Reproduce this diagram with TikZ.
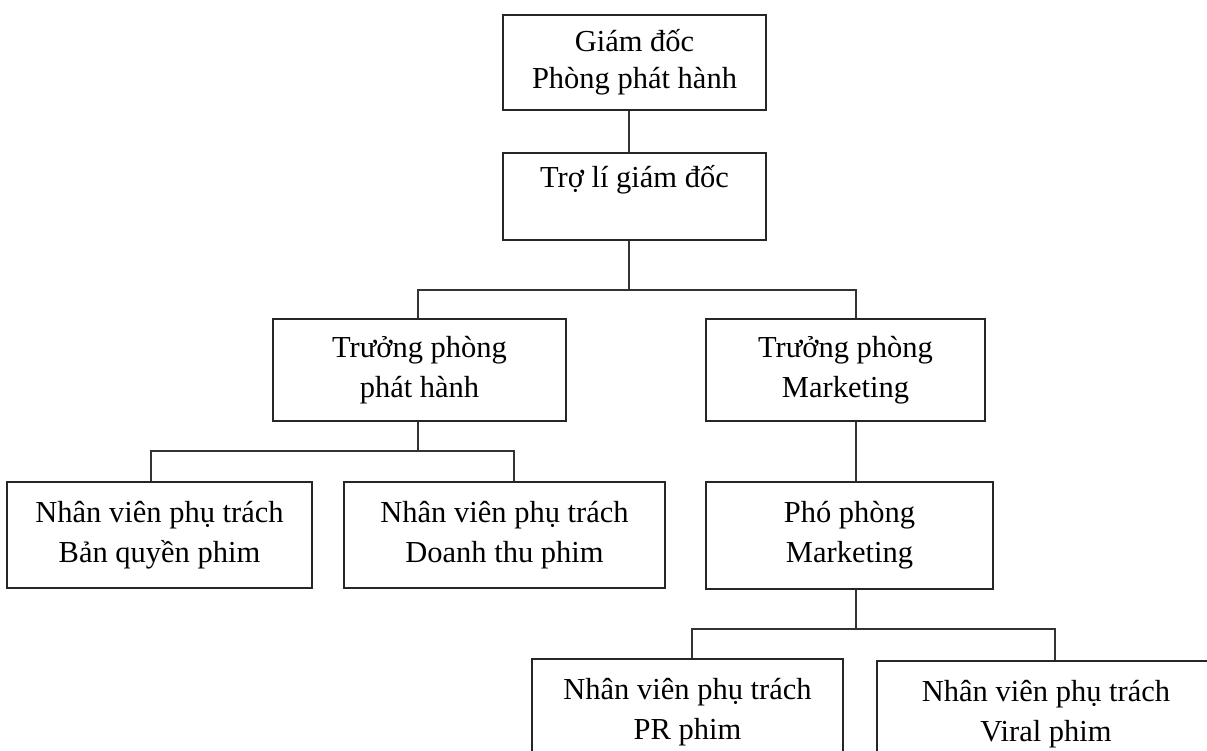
\documentclass[tikz,border=0pt]{standalone}
\usepackage{fontspec}
\setmainfont{Liberation Serif}
\begin{document}
\begin{tikzpicture}[x=1pt,y=-1pt,
  box/.style={draw=black!85, line width=1.3pt, rectangle, inner sep=0pt, align=center,
    font=\fontsize{30.5}{40}\selectfont},
  link/.style={draw=black!80, line width=1.3pt}]
\useasboundingbox (0,0) rectangle (1207,751);
\clip (0,0) rectangle (1207,751);
% boxes
\node[box, minimum width=263pt, minimum height=95pt, font=\fontsize{30.5}{37}\selectfont] (b1) at (634.5,62.5) {Giám đốc\\Phòng phát hành};
\node[box, minimum width=263pt, text height=35pt, text depth=52pt] (b2) at (634.5,196.5) {Trợ lí giám đốc};
\node[box, minimum width=293pt, minimum height=102pt] (b3) at (419.5,370) {Trưởng phòng\\phát hành};
\node[box, minimum width=279pt, minimum height=102pt] (b4) at (845.5,370) {Trưởng phòng\\Marketing};
\node[box, minimum width=305pt, minimum height=106pt] (b5) at (159.5,535) {Nhân viên phụ trách\\Bản quyền phim};
\node[box, minimum width=321pt, minimum height=106pt] (b6) at (504.5,535) {Nhân viên phụ trách\\Doanh thu phim};
\node[box, minimum width=287pt, minimum height=107pt] (b7) at (849.5,535.5) {Phó phòng\\Marketing};
\node[box, minimum width=311pt, minimum height=106pt] (b8) at (687.5,712) {Nhân viên phụ trách\\PR phim};
\node[box, minimum width=338pt, minimum height=106pt] (b9) at (1046,714) {Nhân viên phụ trách\\Viral phim};
% junction coordinates
\coordinate (j1) at (629,290);
\coordinate (l1) at (418,290);
\coordinate (r1) at (856,290);
\coordinate (j2) at (418,451);
\coordinate (l2) at (151,451);
\coordinate (r2) at (514,451);
\coordinate (j3) at (856,629);
\coordinate (l3) at (692,629);
\coordinate (r3) at (1055,629);
% connectors
\draw[link] (b1.south -| j1) -- (b2.north -| j1);
\draw[link] (b2.south -| j1) -- (j1);
\draw[link] (b3.north -| l1) -- (l1) -- (r1) -- (b4.north -| r1);
\draw[link] (b3.south -| j2) -- (j2);
\draw[link] (b5.north -| l2) -- (l2) -- (r2) -- (b6.north -| r2);
\draw[link] (b4.south -| r1) -- (b7.north -| r1);
\draw[link] (b7.south -| j3) -- (j3);
\draw[link] (b8.north -| l3) -- (l3) -- (r3) -- (b9.north -| r3);
\end{tikzpicture}
\end{document}
